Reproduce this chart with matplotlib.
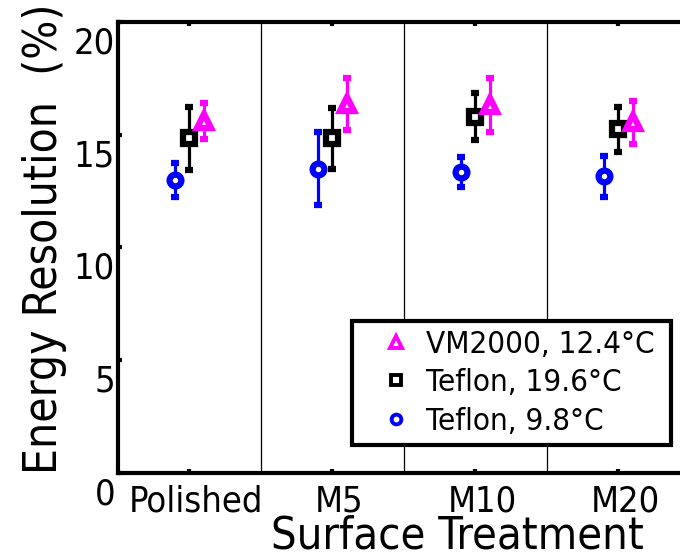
import numpy as np
import matplotlib
matplotlib.use("Agg")
import matplotlib.pyplot as plt
import matplotlib.transforms as mtransforms
from matplotlib.lines import Line2D

# Surface treatments
treatments = ["Polished", "M5", "M10", "M20"]

# Energy resolution (%) and error bars
teflon_98 = [13.0, 13.5, 13.35, 13.15]
teflon_98_err = [0.75, 1.6, 0.65, 0.9]
teflon_196 = [14.85, 14.85, 15.8, 15.25]
teflon_196_err = [1.4, 1.35, 1.05, 1.0]
vm2000 = [15.6, 16.35, 16.3, 15.55]
vm2000_err = [0.8, 1.15, 1.2, 0.95]

legend_labels = ["VM2000, 12.4°C", "Teflon, 19.6°C", "Teflon, 9.8°C"]

plt.rcParams["font.family"] = "DejaVu Sans"
plt.rcParams["font.stretch"] = "condensed"

fig = plt.figure(figsize=(6.8, 5.6), dpi=100)
ax = fig.add_axes([0.1735, 0.1554, 0.841, 0.8054])

x = np.arange(1, len(treatments) + 1)
shift = 0.1

# Separators between treatments
for xs in x[:-1] + 0.5:
    ax.axvline(xs, color="black", lw=0.9, zorder=0)

# Error bars
ax.errorbar(x - shift, teflon_98, yerr=teflon_98_err, fmt="o", color="blue",
            mfc="white", mec="blue", ms=8.5, mew=4.5, elinewidth=2.3,
            capsize=3, capthick=2.3)
ax.errorbar(x, teflon_196, yerr=teflon_196_err, fmt="s", color="black",
            mfc="white", mec="black", ms=8.5, mew=4.5, elinewidth=2.3,
            capsize=3, capthick=2.3)
ax.errorbar(x + shift, vm2000, yerr=vm2000_err, fmt="^", color="magenta",
            mfc="white", mec="magenta", ms=9.5, mew=4.5, elinewidth=2.3,
            capsize=3, capthick=2.3)

ax.set_xlim(0.5, 4.5)
ax.set_ylim(0, 20)
ax.set_xticks(x)
ax.set_xticklabels(treatments, fontsize=26)
ax.set_yticks([0, 5, 10, 15, 20])
ax.set_yticklabels(["0", "5", "10", "15", "20"], fontsize=26)
ax.tick_params(direction="in", length=3, width=3, top=True, right=False)
ax.tick_params(axis="y", pad=2)
ax.tick_params(axis="x", pad=8)

for side in ["left", "bottom", "top"]:
    ax.spines[side].set_linewidth(3)
ax.spines["right"].set_visible(False)

# Tick labels sit a bit off their ticks in the original
for lab in ax.get_yticklabels():
    lab.set_transform(lab.get_transform() +
                      mtransforms.ScaledTranslation(0, -0.18, fig.dpi_scale_trans))
for lab in ax.get_xticklabels():
    lab.set_transform(lab.get_transform() +
                      mtransforms.ScaledTranslation(0.07, 0, fig.dpi_scale_trans))

fig.text(0.066, 0.573, "Energy Resolution  (%)", rotation=90, fontsize=33,
         ha="center", va="center")
fig.text(0.673, 0.02, "Surface Treatment", fontsize=32.5, ha="center", va="baseline")

# Legend
handles = [
    Line2D([], [], marker="^", ls="none", mfc="white", mec="magenta", ms=8, mew=2.8),
    Line2D([], [], marker="s", ls="none", mfc="white", mec="black", ms=7, mew=2.8),
    Line2D([], [], marker="o", ls="none", mfc="white", mec="blue", ms=7, mew=2.8),
]
leg = ax.legend(handles, legend_labels, loc="lower left",
                bbox_to_anchor=(0.409, 0.062, 0.558, 0.275), mode="expand",
                fontsize=22.5, fancybox=False, framealpha=1, edgecolor="black",
                borderaxespad=0, handlelength=2.24, handletextpad=-0.18,
                labelspacing=0.3, borderpad=0.3)
leg.get_frame().set_linewidth(3)

fig.savefig("out.png", dpi=100)
